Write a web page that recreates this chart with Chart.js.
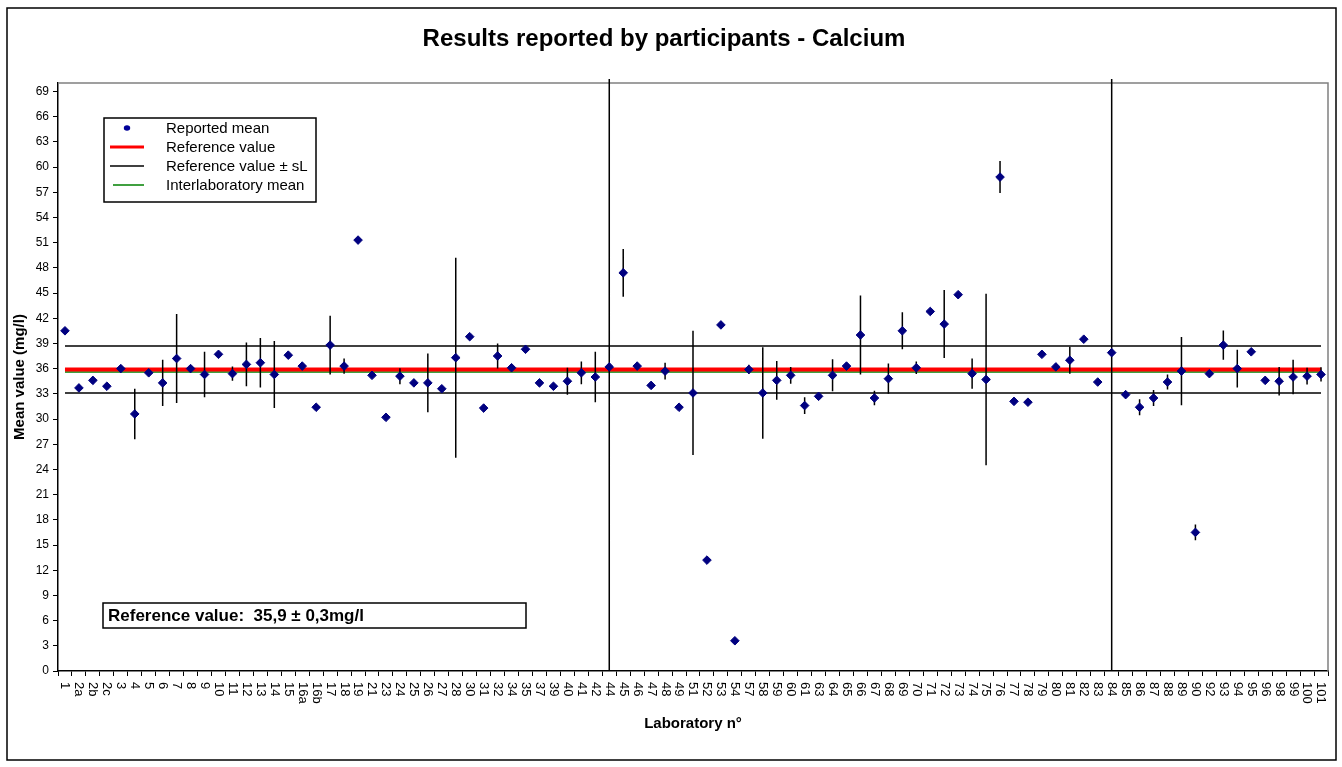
<!DOCTYPE html>
<html><head><meta charset="utf-8">
<script src="https://cdn.jsdelivr.net/npm/chart.js@4.4.1/dist/chart.umd.min.js"></script>
<style>html,body{margin:0;padding:0;background:#fff;}#wrap{width:1342px;height:767px;}</style>
</head><body><div id="wrap"><canvas id="c" width="1342" height="767"></canvas></div>
<script>
// ---- data ----
const labs = ['1','2a','2b','2c','3','4','5','6','7','8','9','10','11','12','13','14','15','16a','16b','17','18','19','21','23','24','25','26','27','28','30','31','32','34','35','37','39','40','41','42','44','45','46','47','48','49','51','52','53','54','57','58','59','60','61','63','64','65','66','67','68','69','70','71','72','73','74','75','76','77','78','79','80','81','82','83','84','85','86','87','88','89','90','92','93','94','95','96','98','99','100','101'];
const means = [40.5,33.7,34.6,33.9,36.0,30.6,35.5,34.3,37.2,36.0,35.3,37.7,35.4,36.5,36.7,35.3,37.6,36.3,31.4,38.8,36.3,51.3,35.2,30.2,35.1,34.3,34.3,33.6,37.3,39.8,31.3,37.5,36.1,38.3,34.3,33.9,34.5,35.5,35.0,36.2,47.4,36.3,34.0,35.7,31.4,33.1,13.2,41.2,3.6,35.9,33.1,34.6,35.2,31.6,32.7,35.2,36.3,40.0,32.5,34.8,40.5,36.1,42.8,41.3,44.8,35.4,34.7,58.8,32.1,32.0,37.7,36.2,37.0,39.5,34.4,37.9,32.9,31.4,32.5,34.4,35.7,16.5,35.4,38.8,36.0,38.0,34.6,34.5,35.0,35.1,35.3];
const errs = [0,0,0,0,0,3.0,0,2.75,5.3,0,2.7,0,0.85,2.6,2.95,4.0,0,0,0,3.5,0.9,0,0,0,0.95,0,3.5,0,11.9,0,0,1.5,0,0,0,0.4,1.6,1.35,3.0,0,2.85,0,0,1.0,0,7.4,0,0,0,0.55,5.45,2.3,1.0,1.0,0,1.9,0.3,4.7,0.85,1.8,2.2,0.75,0,4.05,0,1.8,10.2,1.9,0,0,0,0,1.6,0,0,0,0,0.95,0.95,0.9,4.05,0.93,0.3,1.75,2.25,0,0,1.7,2.05,1.0,0.85];
const refValue = 35.9;
const refUncertainty = 0.3;
const sL = 2.8;
const interlabMean = 35.6;
const dividers = ['44','84'];
const yMin = 0, yMax = 70, yStep = 3;
const seriesNames = ['Reported mean','Reference value','Reference value \u00b1 sL','Interlaboratory mean'];

const FONT = '"Liberation Sans", Arial, Helvetica, sans-serif';
const fmt = v => v.toFixed(1).replace('.', ',');
const first = labs[0], last = labs[labs.length - 1];

const chartPlugin = {
  id: 'custom',
  beforeDraw(chart) {
    const ctx = chart.ctx;
    ctx.save();
    ctx.fillStyle = '#fff';
    ctx.fillRect(0, 0, chart.width, chart.height);
    ctx.strokeStyle = '#000';
    ctx.lineWidth = 1.5;
    ctx.strokeRect(7, 8, 1329, 752);
    ctx.restore();
  },
  beforeDatasetsDraw(chart) {
    const {ctx, chartArea: a} = chart;
    ctx.save();
    ctx.strokeStyle = '#808080';
    ctx.lineWidth = 1.5;
    ctx.beginPath();
    ctx.moveTo(a.left, a.top);
    ctx.lineTo(a.right, a.top);
    ctx.lineTo(a.right, a.bottom);
    ctx.stroke();
    ctx.restore();
  },
  beforeDatasetDraw(chart, args) {
    if (args.index !== 0) return;
    const ctx = chart.ctx, xs = chart.scales.x, ys = chart.scales.y, a = chart.chartArea;
    ctx.save();
    ctx.strokeStyle = '#000';
    ctx.lineWidth = 1.5;
    ctx.beginPath();
    dividers.forEach(d => {
      const px = xs.getPixelForValue(labs.indexOf(d));
      ctx.moveTo(px, a.top - 4);
      ctx.lineTo(px, a.bottom);
    });
    means.forEach((m, i) => {
      if (!errs[i]) return;
      const px = xs.getPixelForValue(i);
      ctx.moveTo(px, ys.getPixelForValue(m + errs[i]));
      ctx.lineTo(px, ys.getPixelForValue(m - errs[i]));
    });
    ctx.stroke();
    ctx.restore();
  },
  afterDraw(chart) {
    const ctx = chart.ctx, xs = chart.scales.x, a = chart.chartArea;
    ctx.save();
    // x tick labels, rotated clockwise (read top to bottom)
    ctx.font = '13px ' + FONT;
    ctx.fillStyle = '#000';
    ctx.textAlign = 'left';
    ctx.textBaseline = 'middle';
    labs.forEach((l, i) => {
      const px = xs.getPixelForValue(i);
      ctx.save();
      ctx.translate(px, a.bottom + 11);
      ctx.rotate(Math.PI / 2);
      ctx.fillText(l, 0, 0);
      ctx.restore();
    });
    // legend
    const lx = a.left + 46, ly = a.top + 35, lw = 212, lh = 84;
    ctx.strokeStyle = '#000';
    ctx.lineWidth = 1.5;
    ctx.strokeRect(lx, ly, lw, lh);
    const rowY = k => ly + 10 + k * 19;
    ctx.fillStyle = '#000099';
    ctx.beginPath();
    ctx.ellipse(lx + 23, rowY(0), 3.2, 2.8, 0, 0, Math.PI * 2);
    ctx.fill();
    const seg = (k, color, w, x0) => {
      ctx.strokeStyle = color; ctx.lineWidth = w;
      ctx.beginPath(); ctx.moveTo(x0, rowY(k)); ctx.lineTo(lx + 40, rowY(k)); ctx.stroke();
    };
    seg(1, '#ff0000', 3, lx + 6);
    seg(2, '#000', 1.5, lx + 6);
    seg(3, '#008000', 1.5, lx + 9);
    ctx.fillStyle = '#000';
    ctx.font = '15px ' + FONT;
    ctx.textAlign = 'left';
    ctx.textBaseline = 'middle';
    seriesNames.forEach((n, k) => ctx.fillText(n, lx + 62, rowY(k) + 1));
    // reference value box
    const bx = a.left + 45, by = 603, bw = 423, bh = 25;
    ctx.lineWidth = 1.5;
    ctx.strokeStyle = '#000';
    ctx.strokeRect(bx, by, bw, bh);
    ctx.font = 'bold 17px ' + FONT;
    ctx.fillText('Reference value:  ' + fmt(refValue) + ' \u00b1 ' + fmt(refUncertainty) + 'mg/l', bx + 5, by + bh / 2 + 1);
    ctx.restore();
  }
};

const line = (label, y, color, width, order) => ({
  type: 'line', label, order,
  data: [{x: first, y}, {x: last, y}],
  borderColor: color, borderWidth: width, pointRadius: 0, fill: false, tension: 0
});

new Chart(document.getElementById('c'), {
  type: 'line',
  data: {
    labels: labs,
    datasets: [
      {
        label: seriesNames[0], data: means, showLine: false, order: 0,
        pointStyle: 'rectRot', pointRadius: 4.3, pointHoverRadius: 4.3,
        pointBackgroundColor: '#000080', pointBorderColor: '#000080', pointBorderWidth: 1
      },
      line(seriesNames[1], refValue, '#ff0000', 4, 1),
      line(seriesNames[3], interlabMean, '#008000', 1.5, 2),
      line(seriesNames[2], refValue + sL, '#000', 1.5, 3),
      line(seriesNames[2], refValue - sL, '#000', 1.5, 3)
    ]
  },
  options: {
    responsive: false, animation: false, devicePixelRatio: 1,
    layout: {padding: {left: 0, right: 14, top: 0, bottom: 0}},
    plugins: {
      legend: {display: false},
      tooltip: {enabled: false},
      title: {
        display: true, text: 'Results reported by participants - Calcium', color: '#000',
        font: {family: FONT, size: 24, weight: 'bold', lineHeight: 1.2},
        padding: {top: 25, bottom: 29.2}
      }
    },
    scales: {
      x: {
        type: 'category', offset: true,
        afterFit(s) { s.height = 96; },
        grid: {display: true, offset: true, drawOnChartArea: false, drawTicks: true, tickLength: 5, color: '#000', lineWidth: 1},
        border: {display: true, color: '#000', width: 1.5},
        ticks: {display: false, autoSkip: false},
        title: {display: true, text: 'Laboratory n\u00b0', color: '#000',
          font: {family: FONT, size: 15, weight: 'bold', lineHeight: 1.2}, padding: {top: 0, bottom: 34.5}}
      },
      y: {
        min: yMin, max: yMax,
        afterFit(s) { s.width = 58; },
        grid: {display: true, drawOnChartArea: false, drawTicks: true, tickLength: 5, color: '#000', lineWidth: 1},
        border: {display: true, color: '#000', width: 1.5},
        ticks: {stepSize: yStep, includeBounds: false, color: '#000', padding: 4, font: {family: FONT, size: 12}},
        title: {display: true, text: 'Mean value (mg/l)', color: '#000',
          font: {family: FONT, size: 15, weight: 'bold', lineHeight: 1.2}, padding: {top: 11, bottom: 0}}
      }
    }
  },
  plugins: [chartPlugin]
});
</script>
</body></html>
